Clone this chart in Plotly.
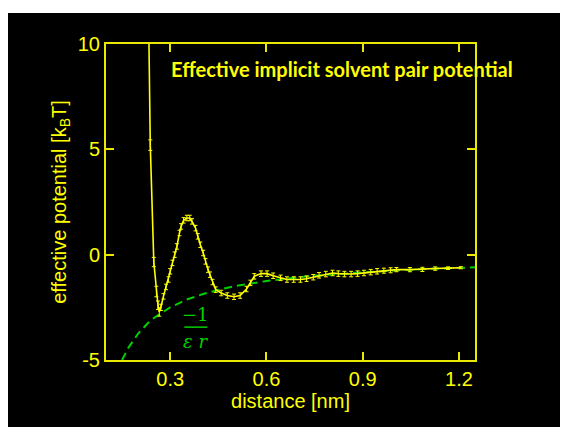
import plotly.graph_objects as go

# ---- data ----
dist_nm = [0.228, 0.238, 0.249, 0.257, 0.262, 0.266, 0.271, 0.279, 0.287, 0.295,
           0.300, 0.307, 0.314, 0.321, 0.329, 0.334, 0.342, 0.352, 0.361, 0.368,
           0.379, 0.386, 0.394, 0.403, 0.410, 0.418, 0.424, 0.432, 0.442, 0.459,
           0.478, 0.499, 0.518, 0.538, 0.550, 0.562, 0.583, 0.602, 0.621, 0.644,
           0.664, 0.685, 0.706, 0.725, 0.746, 0.764, 0.785, 0.806, 0.824, 0.843,
           0.864, 0.884, 0.904, 0.925, 0.945, 0.966, 0.987, 1.005, 1.047, 1.086,
           1.126, 1.166, 1.206]
potential_kT = [17.0, 5.2, -0.35, -1.75, -2.4, -2.72, -2.5, -1.98, -1.53, -1.18,
                -0.79, -0.39, 0.0, 0.39, 1.03, 1.34, 1.63, 1.74, 1.74, 1.58,
                1.26, 0.87, 0.47, 0.08, -0.32, -0.71, -0.95, -1.3, -1.66, -1.82,
                -1.94, -2.0, -1.94, -1.63, -1.34, -1.03, -0.9, -0.9, -1.0, -1.1,
                -1.18, -1.18, -1.18, -1.14, -1.07, -0.98, -0.92, -0.87, -0.9, -0.92,
                -0.92, -0.9, -0.87, -0.83, -0.79, -0.76, -0.74, -0.71, -0.71, -0.70,
                -0.66, -0.64, -0.62]
potential_err = [0.2, 0.25, 0.22, 0.25, 0.2, 0.2, 0.15, 0.13, 0.13, 0.13,
                 0.13, 0.13, 0.13, 0.13, 0.13, 0.13, 0.13, 0.13, 0.13, 0.13,
                 0.13, 0.13, 0.13, 0.13, 0.13, 0.13, 0.13, 0.13, 0.13, 0.13,
                 0.13, 0.13, 0.13, 0.13, 0.13, 0.13, 0.13, 0.13, 0.13, 0.13,
                 0.13, 0.13, 0.13, 0.13, 0.13, 0.13, 0.13, 0.13, 0.13, 0.13,
                 0.13, 0.13, 0.13, 0.13, 0.13, 0.12, 0.12, 0.1, 0.1, 0.1,
                 0.08, 0.06, 0.05]

coulomb_r = [0.15, 0.17, 0.2, 0.23, 0.25, 0.28, 0.3, 0.35, 0.4, 0.45, 0.5, 0.6,
             0.7, 0.8, 0.9, 1.0, 1.1, 1.2, 1.25]
coulomb_v = [-5.0, -4.41, -3.75, -3.26, -3.0, -2.68, -2.5, -2.14, -1.88, -1.67,
             -1.5, -1.25, -1.07, -0.94, -0.83, -0.75, -0.68, -0.625, -0.6]

x_ticks = [0.3, 0.6, 0.9, 1.2]
x_ticklabels = ["0.3", "0.6", "0.9", "1.2"]
y_ticks = [-5, 0, 5, 10]
y_ticklabels = ["-5", "0", "5", "10"]

YEL = "#ffff00"
AXC = "#e8e800"
GRN = "#00d000"
SANS = "Liberation Sans, Arial"

fig = go.Figure()
fig.add_trace(go.Scatter(
    x=coulomb_r, y=coulomb_v, mode="lines",
    line=dict(color=GRN, width=2, dash="8px,5px"), showlegend=False))
fig.add_trace(go.Scatter(
    x=dist_nm, y=potential_kT, mode="lines",
    line=dict(color=YEL, width=1.6),
    error_y=dict(type="data", array=potential_err, visible=True,
                 color=YEL, thickness=1, width=2),
    showlegend=False))

axis_common = dict(showline=True, linecolor=AXC, linewidth=2, mirror="allticks",
                   ticks="inside", ticklen=8, tickwidth=1.5, tickcolor=AXC,
                   showgrid=False, zeroline=False,
                   tickfont=dict(family=SANS, size=20, color=YEL))

fig.update_xaxes(range=[0.1, 1.25], tickvals=x_ticks, ticktext=x_ticklabels,
                 title=dict(text="distance [nm]", standoff=2,
                            font=dict(family=SANS, size=20, color=YEL)),
                 **axis_common)
fig.update_yaxes(range=[-5, 10], tickvals=y_ticks, ticktext=y_ticklabels,
                 title=dict(text="effective potential [k<sub>B</sub>T]", standoff=6,
                            font=dict(family=SANS, size=20, color=YEL)),
                 **axis_common)

# thin white strip at the very top of the picture
fig.add_shape(type="rect", xref="paper", yref="paper", x0=-0.4, x1=1.4,
              y0=1.098, y1=1.2, fillcolor="white", line=dict(width=0), layer="below")

fig.add_annotation(text="<b>Effective implicit solvent pair potential</b>",
                   xref="paper", yref="paper", x=0.172, y=0.921,
                   xanchor="left", yanchor="middle", showarrow=False,
                   font=dict(family="Lato, Open Sans", size=20, color=YEL))

# -1/(eps r) label
fig.add_annotation(text="\u22121", xref="x", yref="y", x=0.38, y=-2.85,
                   showarrow=False, yanchor="middle",
                   font=dict(family="DejaVu Serif, Liberation Serif", size=18, color=GRN))
fig.add_shape(type="line", xref="x", yref="y", x0=0.344, x1=0.416, y0=-3.44, y1=-3.44,
              line=dict(color=GRN, width=1.5))
fig.add_annotation(text="<i>\u03b5 r</i>", xref="x", yref="y", x=0.38, y=-4.1,
                   showarrow=False, yanchor="middle",
                   font=dict(family="DejaVu Serif, Liberation Serif", size=18, color=GRN))

fig.update_layout(width=568, height=427,
                  margin=dict(l=98, r=101, t=36, b=75),
                  paper_bgcolor="black", plot_bgcolor="black")

fig.write_html("out.html")
